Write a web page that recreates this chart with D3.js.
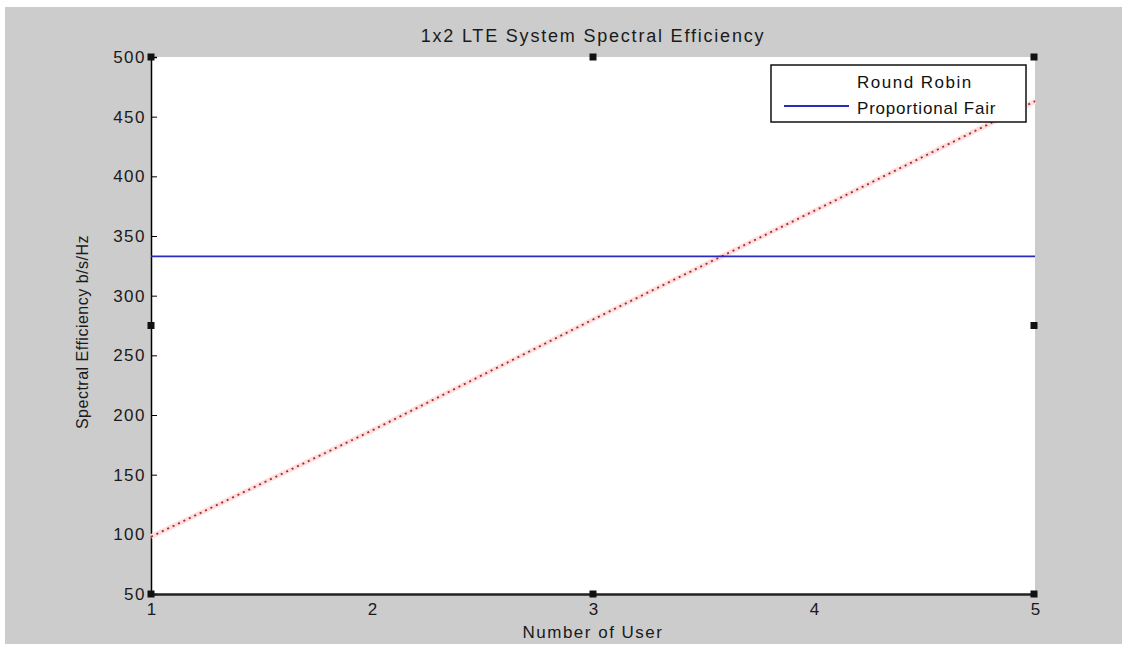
<!DOCTYPE html>
<html>
<head>
<meta charset="utf-8">
<script src="https://cdn.jsdelivr.net/npm/d3@7"></script>
<style>
  html, body { margin: 0; padding: 0; background: #ffffff; }
  svg { display: block; font-family: "Liberation Sans", Arial, sans-serif; }
</style>
</head>
<body>
<svg id="chart" width="1127" height="650"></svg>
<script>
// ---- data ----
const users = [1, 2, 3, 4, 5];
const roundRobin = [98, 187, 280, 371, 463];
const proportionalFair = [333, 333, 333, 333, 333];
const yTicks = [50, 100, 150, 200, 250, 300, 350, 400, 450, 500];
const xTicks = [1, 2, 3, 4, 5];
const title = "1x2 LTE System Spectral Efficiency";
const xLabel = "Number of User";
const yLabel = "Spectral Efficiency b/s/Hz";
const seriesNames = ["Round Robin", "Proportional Fair"];

// ---- layout ----
const W = 1127, H = 650;
const plot = { left: 151, right: 1035, top: 57, bottom: 594 };
const svg = d3.select("#chart");

// figure background
svg.append("rect").attr("x", 5).attr("y", 7).attr("width", W - 10).attr("height", H - 13)
  .attr("fill", "#cccccc");
// axes background
svg.append("rect").attr("x", plot.left).attr("y", plot.top)
  .attr("width", plot.right - plot.left).attr("height", plot.bottom - plot.top)
  .attr("fill", "#ffffff");

const x = d3.scaleLinear().domain([1, 5]).range([plot.left, plot.right]);
const y = d3.scaleLinear().domain([50, 500]).range([plot.bottom, plot.top]);

// y axis (ticks pointing inward)
const yAxis = d3.axisLeft(y).tickValues(yTicks).tickSize(-6).tickPadding(8).tickFormat(d3.format("d"));
const gy = svg.append("g").attr("transform", `translate(${plot.left},0)`).call(yAxis);
gy.select(".domain").attr("stroke", "#000").attr("stroke-width", 1.5);
gy.selectAll(".tick line").attr("stroke", "#000");
gy.selectAll(".tick text").attr("font-size", 17).attr("letter-spacing", 1.5)
  .attr("fill", "#1a1a1a").attr("x", -5).attr("font-family", "Liberation Sans, Arial, sans-serif");

// x axis
const xAxis = d3.axisBottom(x).tickValues(xTicks).tickSize(0).tickPadding(9).tickFormat(d3.format("d"));
const gx = svg.append("g").attr("transform", `translate(0,${plot.bottom})`).call(xAxis);
gx.select(".domain").attr("stroke", "#222").attr("stroke-width", 2.5);
gx.selectAll(".tick text").attr("font-size", 17).attr("fill", "#1a1a1a")
  .attr("font-family", "Liberation Sans, Arial, sans-serif");

// lines
const line = d3.line().x((d, i) => x(users[i])).y(d => y(d));

svg.append("path").datum(roundRobin).attr("d", line)
  .attr("fill", "none").attr("stroke", "#ffdede").attr("stroke-width", 5);
svg.append("path").datum(roundRobin).attr("d", line)
  .attr("fill", "none").attr("stroke", "#a52a2a").attr("stroke-width", 1.8)
  .attr("stroke-dasharray", "2,4");

svg.append("path").datum(proportionalFair).attr("d", line)
  .attr("fill", "none").attr("stroke", "#2a2ac0").attr("stroke-width", 1.8);

// selection handles
const midX = (plot.left + plot.right) / 2, midY = (plot.top + plot.bottom) / 2;
const handles = [
  [plot.left, plot.top], [midX, plot.top], [plot.right - 1, plot.top],
  [plot.left, midY], [plot.right - 1, midY],
  [plot.left, plot.bottom], [midX, plot.bottom], [plot.right - 1, plot.bottom]
];
svg.selectAll("rect.handle").data(handles).enter().append("rect")
  .attr("class", "handle")
  .attr("x", d => d[0] - 3.5).attr("y", d => d[1] - 3.5)
  .attr("width", 7).attr("height", 7).attr("fill", "#111");

// title and labels
svg.append("text").attr("x", midX).attr("y", 42).attr("text-anchor", "middle")
  .attr("font-size", 18).attr("letter-spacing", 1.8).attr("fill", "#1a1a1a").text(title);
svg.append("text").attr("x", midX).attr("y", 638).attr("text-anchor", "middle")
  .attr("font-size", 17).attr("letter-spacing", 1.5).attr("fill", "#1a1a1a").text(xLabel);
svg.append("text").attr("transform", `translate(88,332) rotate(-90)`)
  .attr("text-anchor", "middle").attr("font-size", 16).attr("letter-spacing", 0.5)
  .attr("fill", "#1a1a1a").text(yLabel);

// legend
const lg = svg.append("g");
lg.append("rect").attr("x", 771).attr("y", 65).attr("width", 255).attr("height", 57)
  .attr("fill", "#fff").attr("stroke", "#111").attr("stroke-width", 1.5);
lg.append("text").attr("x", 857).attr("y", 88).attr("font-size", 17).attr("letter-spacing", 1.5)
  .attr("fill", "#111").text(seriesNames[0]);
lg.append("line").attr("x1", 784).attr("x2", 849).attr("y1", 106).attr("y2", 106)
  .attr("stroke", "#2a2ac0").attr("stroke-width", 1.8);
lg.append("text").attr("x", 857).attr("y", 114).attr("font-size", 17).attr("letter-spacing", 0.8)
  .attr("fill", "#111").text(seriesNames[1]);
</script>
</body>
</html>
